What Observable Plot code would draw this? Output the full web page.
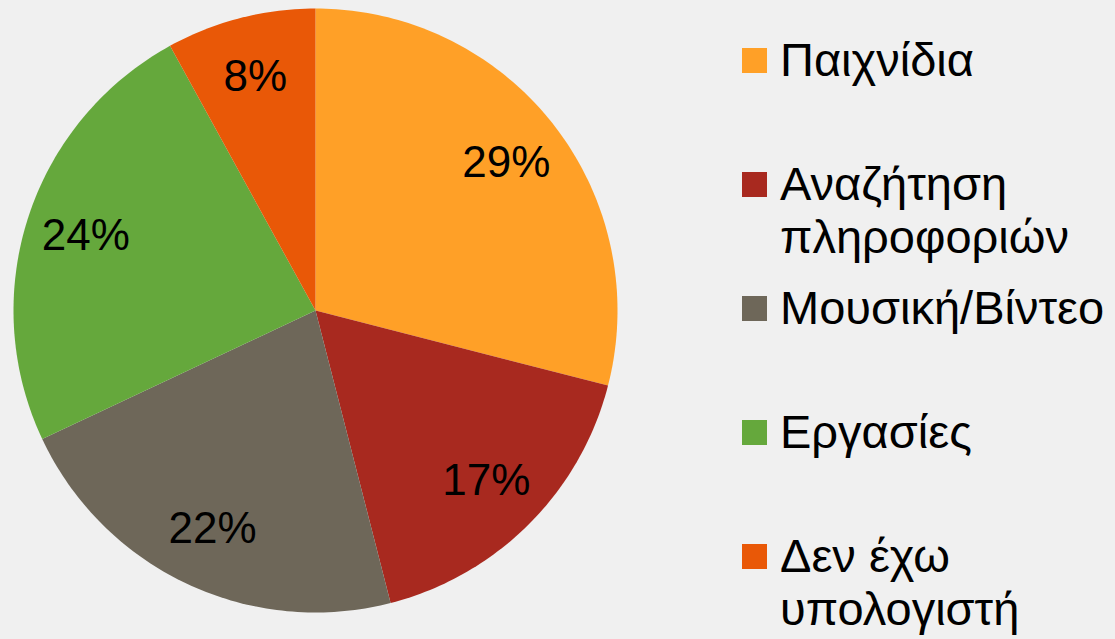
<!DOCTYPE html>
<html>
<head>
<meta charset="utf-8">
<script src="https://cdn.jsdelivr.net/npm/d3@7"></script>
<script src="https://cdn.jsdelivr.net/npm/@observablehq/plot@0.6"></script>
<style>
  html, body { margin: 0; padding: 0; background: #F0F0F0; }
  body { width: 1115px; height: 639px; overflow: hidden; font-family: "Liberation Sans", Arial, sans-serif; }
  #wrap { display: flex; flex-direction: row; align-items: flex-start; }
  #legend { position: relative; width: 373px; height: 639px; }
  .item { position: absolute; left: 0; font-size: 47px; line-height: 53px; color: #000; }
  .sw { position: absolute; left: 0; top: 15px; width: 25px; height: 25px; }
  .lbl { position: absolute; left: 38px; top: 0; white-space: pre; }
</style>
</head>
<body>
<div id="wrap"><div id="chart"></div><div id="legend"></div></div>
<script>
const categories = ["Παιχνίδια", "Αναζήτηση πληροφοριών", "Μουσική/Βίντεο", "Εργασίες", "Δεν έχω υπολογιστή"];
const legendLines = ["Παιχνίδια", "Αναζήτηση\nπληροφοριών", "Μουσική/Βίντεο", "Εργασίες", "Δεν έχω\nυπολογιστή"];
const values = [29, 17, 22, 24, 8];
const percentLabels = ["29%", "17%", "22%", "24%", "8%"];
const colors = ["#FFA027", "#A8291F", "#6E6759", "#65A83C", "#E95807"];

// layout
const W = 742, H = 639, cx = 315, cy = 310, R = 302;
const total = d3.sum(values);

// slice polygons computed from the values
const pts = [];
const lbls = [];
let acc = 0;
values.forEach((v, i) => {
  const a0 = acc / total * 2 * Math.PI;
  acc += v;
  const a1 = acc / total * 2 * Math.PI;
  const n = Math.max(4, Math.ceil((a1 - a0) / (2 * Math.PI) * 360));
  pts.push({cat: categories[i], x: 0, y: 0});
  for (let k = 0; k <= n; k++) {
    const a = a0 + (a1 - a0) * k / n;
    pts.push({cat: categories[i], x: Math.sin(a), y: Math.cos(a)});
  }
  pts.push({cat: categories[i], x: 0, y: 0});
  const am = (a0 + a1) / 2;
  lbls.push({text: percentLabels[i], x: 0.8 * Math.sin(am), y: 0.8 * Math.cos(am)});
});

const chart = Plot.plot({
  width: W,
  height: H,
  margin: 0,
  x: {domain: [-cx / R, (W - cx) / R], axis: null},
  y: {domain: [-(H - cy) / R, cy / R], axis: null},
  color: {domain: categories, range: colors},
  style: {background: "transparent", fontFamily: "'Liberation Sans', Arial, sans-serif", overflow: "visible"},
  marks: [
    Plot.line(pts, {x: "x", y: "y", z: "cat", fill: "cat", stroke: "none", curve: "linear"}),
    Plot.text(lbls, {x: "x", y: "y", text: "text", fontSize: 44, fill: "#000"})
  ]
});
document.getElementById("chart").appendChild(chart);

const legend = document.getElementById("legend");
categories.forEach((c, i) => {
  const item = document.createElement("div");
  item.className = "item";
  item.style.top = (33 + 124 * i) + "px";
  const sw = document.createElement("div");
  sw.className = "sw";
  sw.style.background = colors[i];
  const lb = document.createElement("div");
  lb.className = "lbl";
  lb.textContent = legendLines[i];
  item.appendChild(sw);
  item.appendChild(lb);
  legend.appendChild(item);
});
</script>
</body>
</html>
